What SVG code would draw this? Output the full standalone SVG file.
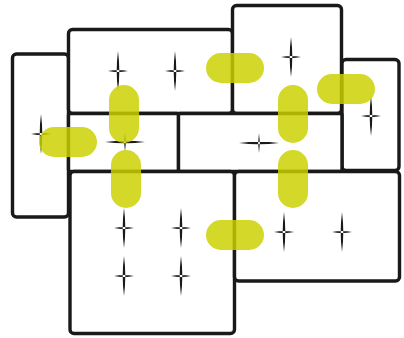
<svg xmlns="http://www.w3.org/2000/svg" width="404" height="338" viewBox="0 0 404 338">
<style>
.room{fill:#fff;stroke:#1a1818;stroke-width:3.4;stroke-linejoin:round}
.spark{fill:#1a1818}
.door{fill:#cbd000;fill-opacity:0.84}
</style>
<defs>
<g id="sv"><path class="spark" d="M0,-20 Q2.6,0 0,20 Q-2.6,0 0,-20 Z M-10,0 Q0,1.8 10,0 Q0,-1.8 -10,0 Z"/></g>
<g id="sh"><path class="spark" d="M-20,0 Q0,2.6 20,0 Q0,-2.6 -20,0 Z M0,-10 Q1.8,0 0,10 Q-1.8,0 0,-10 Z"/></g>
</defs>
<g id="rooms">
<g id="room-left"><rect class="room" x="12.5" y="54" width="56" height="163" rx="4"/></g>
<g id="room-top-middle"><rect class="room" x="68.5" y="29.5" width="164" height="84" rx="4"/></g>
<g id="room-top-right"><rect class="room" x="232.5" y="5.5" width="109" height="108" rx="4"/></g>
<g id="room-far-right"><rect class="room" x="342" y="59.5" width="57" height="111" rx="4"/></g>
<g id="room-mid-left"><rect class="room" x="68.5" y="113.5" width="110" height="58" rx="2"/></g>
<g id="room-mid-right"><rect class="room" x="178.5" y="113.5" width="163.5" height="58" rx="2"/></g>
<g id="room-bottom-left"><rect class="room" x="70" y="171.5" width="164.5" height="162" rx="4"/></g>
<g id="room-bottom-right"><rect class="room" x="234.5" y="171.5" width="165" height="109.5" rx="4"/></g>
</g>
<g id="lights">
<use href="#sv" x="118" y="71"/>
<use href="#sv" x="175" y="71"/>
<use href="#sv" x="41" y="134"/>
<use href="#sh" x="125" y="142"/>
<use href="#sh" x="259" y="143"/>
<use href="#sv" x="291" y="57"/>
<use href="#sv" x="371" y="116"/>
<use href="#sv" x="124" y="228"/>
<use href="#sv" x="181" y="228"/>
<use href="#sv" x="124" y="276"/>
<use href="#sv" x="181" y="276"/>
<use href="#sv" x="284" y="232"/>
<use href="#sv" x="342" y="232"/>
</g>
<g id="connectors">
<rect class="door" x="206" y="53" width="58" height="30" rx="15"/>
<rect class="door" x="317" y="74" width="58" height="30" rx="15"/>
<rect class="door" x="278" y="85" width="30" height="58" rx="15"/>
<rect class="door" x="278" y="150" width="30" height="58" rx="15"/>
<rect class="door" x="39" y="127" width="58" height="30" rx="15"/>
<rect class="door" x="109" y="85" width="30" height="58" rx="15"/>
<rect class="door" x="111" y="150" width="30" height="58" rx="15"/>
<rect class="door" x="206" y="220" width="58" height="30" rx="15"/>
</g>
</svg>
